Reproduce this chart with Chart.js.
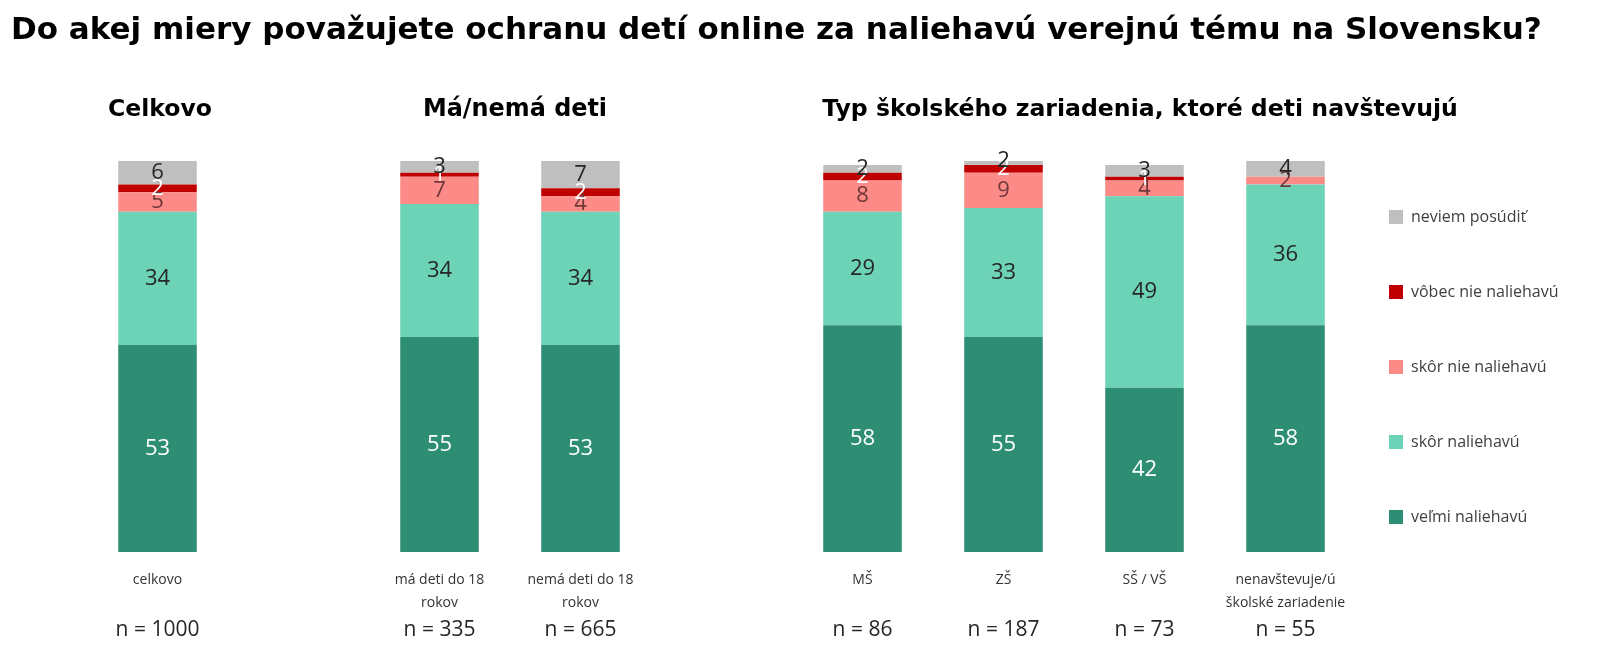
<!DOCTYPE html>
<html>
<head>
<meta charset="utf-8">
<script src="https://cdn.jsdelivr.net/npm/chart.js@4.4.1/dist/chart.umd.min.js"></script>
<style>
  html, body { margin: 0; padding: 0; background: #fff; }
  #wrap { position: relative; width: 1600px; height: 657px; }
</style>
</head>
<body>
<div id="wrap"><canvas id="chart"></canvas></div>
<script>
// categories (empty ones keep the gaps between groups)
var categories = [
  'celkovo', '',
  ['má deti do 18', 'rokov'], ['nemá deti do 18', 'rokov'], '',
  'MŠ', 'ZŠ', 'SŠ / VŠ', ['nenavštevuje/ú', 'školské zariadenie']
];
var sampleSizes = ['n = 1000', '', 'n = 335', 'n = 665', '', 'n = 86', 'n = 187', 'n = 73', 'n = 55'];

var velmiNaliehavu    = [53, null, 55, 53, null, 58, 55, 42, 58];
var skorNaliehavu     = [34, null, 34, 34, null, 29, 33, 49, 36];
var skorNieNaliehavu  = [5,  null, 7,  4,  null, 8,  9,  4,  2];
var vobecNieNaliehavu = [2,  null, 1,  2,  null, 2,  2,  1,  0];
var neviemPosudit     = [6,  null, 3,  7,  null, 2,  2,  3,  4];

var mainTitle = 'Do akej miery považujete ochranu detí online za naliehavú verejnú tému na Slovensku?';
var groupTitles = [
  { text: 'Celkovo', x: 160, w: 104 },
  { text: 'Má/nemá deti', x: 515, w: 184 },
  { text: 'Typ školského zariadenia, ktoré deti navštevujú', x: 1140, w: 637 }
];

var FONT = "'Open Sans', 'Noto Sans', sans-serif";
var TITLE_FONT = "'DejaVu Sans', 'Open Sans', sans-serif";

var datasets = [
  { label: 'veľmi naliehavú', data: velmiNaliehavu, backgroundColor: '#2E8E74', labelColor: '#ffffff' },
  { label: 'skôr naliehavú', data: skorNaliehavu, backgroundColor: '#6CD3B7', labelColor: '#262626' },
  { label: 'skôr nie naliehavú', data: skorNieNaliehavu, backgroundColor: '#FC8A87', labelColor: '#6e3838' },
  { label: 'vôbec nie naliehavú', data: vobecNieNaliehavu, backgroundColor: '#C00000', labelColor: '#ffffff' },
  { label: 'neviem posúdiť', data: neviemPosudit, backgroundColor: '#BFBFBF', labelColor: '#262626' }
];

// pick a bold size so the text spans about the wanted width
function fitBold(ctx, text, width, maxSize) {
  ctx.font = 'bold 20px ' + TITLE_FONT;
  var size = 20 * width / ctx.measureText(text).width;
  return 'bold ' + Math.min(size, maxSize).toFixed(1) + 'px ' + TITLE_FONT;
}

// value labels in the middle of each segment
var segmentLabels = {
  id: 'segmentLabels',
  afterDatasetsDraw: function(chart) {
    var ctx = chart.ctx;
    ctx.save();
    ctx.font = '22px ' + FONT;
    ctx.textAlign = 'center';
    ctx.textBaseline = 'middle';
    chart.data.datasets.forEach(function(ds, i) {
      var meta = chart.getDatasetMeta(i);
      meta.data.forEach(function(bar, j) {
        var v = ds.data[j];
        if (v === null || v === 0) return;
        ctx.fillStyle = ds.labelColor;
        ctx.fillText(String(v), bar.x, (bar.y + bar.base) / 2);
      });
    });
    ctx.restore();
  }
};

// titles, n = ... row and legend
var extras = {
  id: 'extras',
  afterDraw: function(chart) {
    var ctx = chart.ctx;
    var xScale = chart.scales.x;
    ctx.save();
    ctx.fillStyle = '#000';
    ctx.textBaseline = 'middle';
    ctx.textAlign = 'left';
    ctx.font = fitBold(ctx, mainTitle, 1532, 32);
    ctx.fillText(mainTitle, 11, 31);

    ctx.textAlign = 'center';
    groupTitles.forEach(function(g) {
      ctx.font = fitBold(ctx, g.text, g.w, 27);
      ctx.fillText(g.text, g.x, 110);
    });

    ctx.font = '21px ' + FONT;
    ctx.fillStyle = '#262626';
    sampleSizes.forEach(function(s, i) {
      if (!s) return;
      ctx.fillText(s, xScale.getPixelForValue(i), 630);
    });

    // legend, top item = last dataset
    ctx.textAlign = 'left';
    ctx.font = '16px ' + FONT;
    chart.data.datasets.slice().reverse().forEach(function(ds, k) {
      var y = 217 + k * 75;
      ctx.fillStyle = ds.backgroundColor;
      ctx.fillRect(1389, y - 7, 14, 14);
      ctx.fillStyle = '#404040';
      ctx.fillText(ds.label, 1411, y);
    });
    ctx.restore();
  }
};

new Chart(document.getElementById('chart').getContext('2d'), {
  type: 'bar',
  data: {
    labels: categories,
    datasets: datasets
  },
  options: {
    responsive: true,
    maintainAspectRatio: false,
    animation: false,
    layout: { padding: { top: 161, left: 87, right: 244, bottom: 0 } },
    datasets: { bar: { barPercentage: 1, categoryPercentage: 0.557 } },
    plugins: {
      legend: { display: false },
      tooltip: { enabled: false }
    },
    scales: {
      x: {
        stacked: true,
        grid: { display: false, drawTicks: false },
        border: { display: false },
        ticks: {
          autoSkip: false,
          maxRotation: 0,
          padding: 17,
          color: '#333333',
          font: { family: FONT, size: 14, lineHeight: 1.6 }
        },
        afterFit: function(scale) { scale.height = 105; }
      },
      y: {
        stacked: true,
        display: false,
        min: 0,
        max: 100
      }
    }
  },
  plugins: [segmentLabels, extras]
});
</script>
</body>
</html>
